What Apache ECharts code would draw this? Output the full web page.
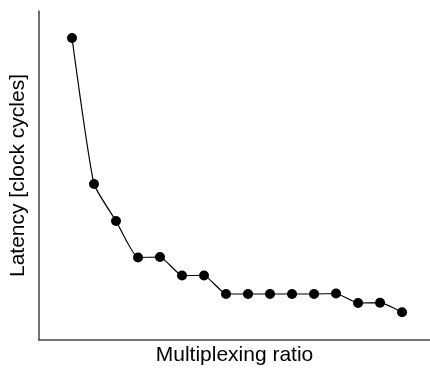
<!DOCTYPE html>
<html>
<head>
<meta charset="utf-8">
<script src="https://cdn.jsdelivr.net/npm/echarts@6/dist/echarts.min.js"></script>
<style>
  html, body { margin: 0; padding: 0; background: #fff; }
  #chart { width: 430px; height: 370px; }
</style>
</head>
<body>
<div id="chart"></div>
<script>
// Ratios de multiplexage (axe x) et latences mesurées (axe y, unités arbitraires)
const ratios = [1, 2, 3, 4, 5, 6, 7, 8, 9, 10, 11, 12, 13, 14, 15, 16];
const latences = [302, 156, 119, 82.5, 83, 64.5, 64.5, 46, 46, 46, 46, 46, 46.5, 37, 37.3, 27.7];

const dom = document.getElementById('chart');
const chart = echarts.init(dom);

const fontFamily = '"Liberation Sans", Arial, sans-serif';

chart.setOption({
    animation: false,
    grid: { left: 39, right: 0, top: 11, bottom: 30, containLabel: false, outerBoundsMode: 'none' },
    xAxis: {
        type: 'value',
        min: -0.5,
        max: 17.27,
        name: 'Multiplexing ratio',
        nameLocation: 'middle',
        nameGap: 15,
        nameTextStyle: { fontSize: 21, color: '#000', fontFamily, verticalAlign: 'middle' },
        axisLine: { onZero: false, lineStyle: { color: '#444', width: 1.5 } },
        axisTick: { show: false },
        axisLabel: { show: false },
        splitLine: { show: false }
    },
    yAxis: {
        type: 'value',
        min: 0,
        max: 329,
        name: 'Latency [clock cycles]',
        nameLocation: 'middle',
        nameGap: 21,
        nameTextStyle: { fontSize: 21, color: '#000', fontFamily, verticalAlign: 'middle' },
        axisLine: { show: true, onZero: false, lineStyle: { color: '#444', width: 1.5 } },
        axisTick: { show: false },
        axisLabel: { show: false },
        splitLine: { show: false }
    },
    series: [{
        type: 'line',
        data: ratios.map((r, i) => [r, latences[i]]),
        smooth: 0.15,
        symbol: 'circle',
        symbolSize: 10,
        itemStyle: { color: '#000' },
        lineStyle: { color: '#000', width: 1.2 }
    }]
});

window.addEventListener('resize', () => chart.resize());
</script>
</body>
</html>
